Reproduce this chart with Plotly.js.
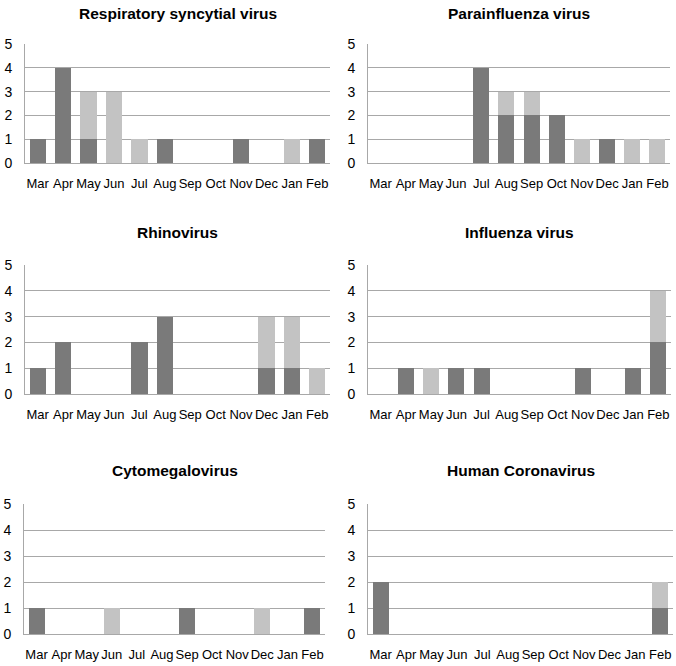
<!DOCTYPE html>
<html><head><meta charset="utf-8">
<script src="https://cdn.plot.ly/plotly-3.0.1.min.js"></script>
<style>html,body{margin:0;padding:0;background:#fff}#c{width:676px;height:666px}</style>
</head><body><div id="c"></div>
<script>
const months = ["Mar","Apr","May","Jun","Jul","Aug","Sep","Oct","Nov","Dec","Jan","Feb"];
const titles = ["Respiratory syncytial virus","Parainfluenza virus","Rhinovirus","Influenza virus","Cytomegalovirus","Human Coronavirus"];
const rsvDark   = [1,4,1,0,0,1,0,0,1,0,0,1];
const rsvLight  = [0,0,2,3,1,0,0,0,0,0,1,0];
const paraDark  = [0,0,0,0,4,2,2,2,0,1,0,0];
const paraLight = [0,0,0,0,0,1,1,0,1,0,1,1];
const rhinoDark = [1,2,0,0,2,3,0,0,0,1,1,0];
const rhinoLight= [0,0,0,0,0,0,0,0,0,2,2,1];
const fluDark   = [0,1,0,1,1,0,0,0,1,0,1,2];
const fluLight  = [0,0,1,0,0,0,0,0,0,0,0,2];
const cmvDark   = [1,0,0,0,0,0,1,0,0,0,0,1];
const cmvLight  = [0,0,0,1,0,0,0,0,0,1,0,0];
const hcovDark  = [2,0,0,0,0,0,0,0,0,0,0,1];
const hcovLight = [0,0,0,0,0,0,0,0,0,0,0,1];
const yTicks = [0,1,2,3,4,5];

const darkSeries = [rsvDark, paraDark, rhinoDark, fluDark, cmvDark, hcovDark];
const lightSeries = [rsvLight, paraLight, rhinoLight, fluLight, cmvLight, hcovLight];

const W = 676, H = 666;
// pixel boxes [left, right, top, bottom]
const boxes = [
  [25,330,44,163],[368,670,44,163],
  [25,330,265,394],[368,671,265,394],
  [24,325,504,634],[368,673,504,634]
];
const titleY = [14,14,232,232,470,470];

const DARK = "#7a7a7a", LIGHT = "#c3c3c3", GRID = "#a8a8a8";
const data = [];
const layout = {
  width: W, height: H, margin:{l:0,r:0,t:0,b:0},
  paper_bgcolor:"#fff", plot_bgcolor:"#fff",
  barmode:"stack", bargap:0.36, showlegend:false,
  font:{family:"Liberation Sans, Arial, sans-serif", color:"#000"},
  annotations: []
};
for (let i=0;i<6;i++){
  const s = i===0?"":String(i+1);
  data.push({type:"bar", x:months, y:darkSeries[i], marker:{color:DARK}, xaxis:"x"+s, yaxis:"y"+s, hoverinfo:"none"});
  data.push({type:"bar", x:months, y:lightSeries[i], marker:{color:LIGHT}, xaxis:"x"+s, yaxis:"y"+s, hoverinfo:"none"});
  const b = boxes[i];
  layout["xaxis"+s] = {
    domain:[b[0]/W, b[1]/W], anchor:"y"+s, type:"category",
    showline:true, linecolor:GRID, linewidth:1, showgrid:false, zeroline:false,
    ticks:"", tickangle:0, tickfont:{size:13, color:"#000"}, ticklabelstandoff:8, fixedrange:true
  };
  layout["yaxis"+s] = {
    domain:[(H-b[3])/H, (H-b[2])/H], anchor:"x"+s, range:[0,5],
    tickvals:yTicks, ticktext:yTicks.map(String),
    showline:true, linecolor:GRID, linewidth:1, showgrid:true, gridcolor:GRID, gridwidth:1,
    zeroline:false, ticks:"", tickfont:{size:14, color:"#000"}, ticklabelstandoff:9, fixedrange:true
  };
  layout.annotations.push({
    text:"<b>"+titles[i]+"</b>", xref:"paper", yref:"paper",
    x:((b[0]+b[1])/2)/W, y:(H-titleY[i])/H, xanchor:"center", yanchor:"middle",
    showarrow:false, font:{size:15.5, color:"#000"}
  });
}
Plotly.newPlot("c", data, layout, {staticPlot:true});
</script></body></html>
